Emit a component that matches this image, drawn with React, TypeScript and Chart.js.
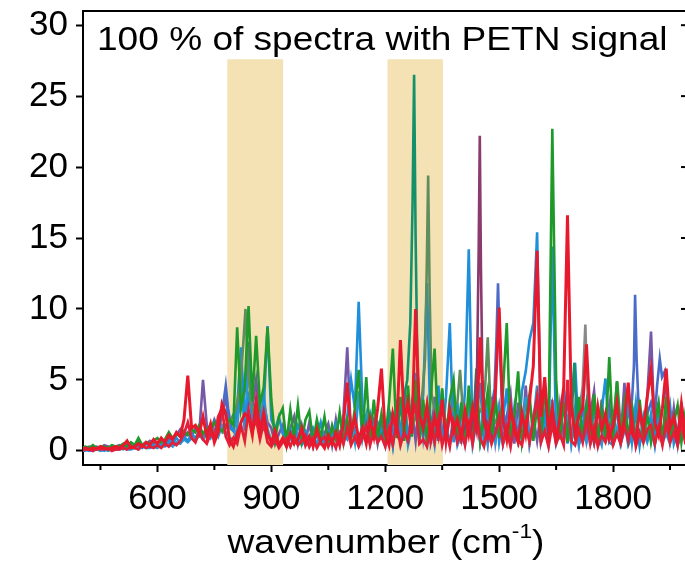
import React, { useEffect, useRef } from "react";
import { Chart, registerables } from "chart.js";
Chart.register(...registerables);

// ---------- data ----------
const wavenumbers = [
  400, 410, 420, 430, 440, 450, 460, 470, 480, 490,
  500, 510, 520, 530, 540, 550, 560, 570, 580, 590,
  600, 610, 620, 630, 640, 650, 660, 670, 680, 690,
  700, 710, 720, 730, 740, 750, 760, 770, 780, 790,
  800, 810, 820, 830, 840, 850, 860, 870, 880, 890,
  900, 910, 920, 930, 940, 950, 960, 970, 980, 990,
  1000, 1010, 1020, 1030, 1040, 1050, 1060, 1070, 1080, 1090,
  1100, 1110, 1120, 1130, 1140, 1150, 1160, 1170, 1180, 1190,
  1200, 1210, 1220, 1230, 1240, 1250, 1260, 1270, 1280, 1290,
  1300, 1310, 1320, 1330, 1340, 1350, 1360, 1370, 1380, 1390,
  1400, 1410, 1420, 1430, 1440, 1450, 1460, 1470, 1480, 1490,
  1500, 1510, 1520, 1530, 1540, 1550, 1560, 1570, 1580, 1590,
  1600, 1610, 1620, 1630, 1640, 1650, 1660, 1670, 1680, 1690,
  1700, 1710, 1720, 1730, 1740, 1750, 1760, 1770, 1780, 1790,
  1800, 1810, 1820, 1830, 1840, 1850, 1860, 1870, 1880, 1890,
  1900, 1910, 1920, 1930, 1940, 1950, 1960, 1970, 1980, 1990,
  2000,
];

const redSpectrum = [
  0.1, 0.2, 0.1, 0.2, 0.1, 0.3, 0.2, 0.1, 0.2, 0.3,
  0.2, 0.4, 0.7, 0.2, 0.3, 0.5, 0.3, 0.6, 0.4, 0.8,
  0.5, 0.9, 0.6, 1.1, 0.8, 1.3, 1.0, 2.2, 5.3, 1.6,
  1.8, 1.2, 2.4, 1.0, 1.9, 0.6, 1.3, 3.3, 2.6, 0.8,
  0.3, 1.2, 2.0, 2.6, 2.4, 1.1, 3.5, 1.4, 2.7, 1.2,
  0.6, 1.4, 0.4, 0.9, 0.3, 1.2, 0.5, 0.8, 1.6, 0.4,
  1.0, 0.3, 1.5, 0.6, 0.2, 1.1, 0.5, 1.3, 0.4, 2.0,
  4.8, 1.2, 2.4, 0.8, 1.6, 0.5, 2.2, 1.0, 3.0, 5.8,
  1.2, 0.4, 2.6, 1.5, 7.8, 2.0, 3.4, 1.2, 10.0, 2.5,
  1.6, 3.2, 0.8, 2.4, 1.1, 3.6, 0.7, 2.9, 1.4, 2.2,
  0.9, 2.8, 1.2, 3.0, 1.6, 8.0, 2.1, 1.0, 2.6, 4.0,
  10.1, 2.2, 0.8, 3.1, 1.4, 0.6, 2.7, 1.2, 3.5, 6.0,
  14.1, 2.4, 5.2, 1.3, 3.0, 0.9, 2.2, 4.5, 16.6, 3.2,
  1.1, 2.5, 3.0, 7.5, 2.0, 0.7, 3.1, 1.5, 2.6, 0.9,
  1.8, 3.4, 1.0, 2.2, 4.8, 1.3, 0.6, 2.9, 1.5, 3.8,
  5.7, 2.0, 1.1, 3.0, 5.8, 1.6, 2.4, 0.8, 3.3, 1.2,
  2.0,
];

const redSpectrum2 = [
  0.0, 0.1, 0.1, 0.0, 0.2, 0.1, 0.1, 0.2, 0.0, 0.1,
  0.1, 0.2, 0.1, 0.3, 0.2, 0.1, 0.4, 0.2, 0.3, 0.2,
  0.4, 0.2, 0.5, 0.3, 0.6, 0.4, 0.7, 1.2, 2.0, 0.9,
  0.6, 1.4, 0.8, 0.5, 1.2, 0.9, 2.4, 3.0, 1.0, 0.4,
  0.9, 0.5, 1.8, 0.7, 2.9, 1.4, 2.2, 0.8, 2.0, 0.6,
  0.3, 0.8, 0.2, 0.6, 0.9, 0.3, 1.0, 0.4, 0.7, 1.1,
  0.3, 0.9, 0.2, 0.7, 1.0, 0.3, 0.8, 0.2, 1.2, 0.5,
  1.6, 0.4, 1.0, 0.3, 0.9, 1.8, 0.4, 1.4, 0.6, 1.0,
  0.3, 1.6, 0.5, 2.0, 0.4, 1.3, 0.7, 2.4, 3.2, 0.5,
  0.8, 0.3, 1.8, 0.6, 2.2, 0.4, 1.5, 0.3, 2.0, 0.6,
  1.4, 0.4, 1.9, 0.5, 2.6, 0.9, 0.3, 1.7, 0.5, 1.2,
  2.4, 0.5, 1.6, 0.3, 2.0, 0.8, 0.4, 1.8, 0.6, 2.2,
  3.8, 0.6, 1.4, 0.3, 1.9, 0.5, 1.2, 0.4, 5.0, 0.7,
  0.4, 1.5, 0.6, 2.3, 0.5, 1.7, 0.3, 1.1, 0.6, 1.6,
  0.4, 1.2, 0.5, 1.8, 0.7, 2.2, 0.3, 1.3, 0.6, 1.5,
  1.8, 0.5, 1.6, 0.4, 2.0, 0.6, 1.3, 0.4, 2.1, 0.6,
  0.8,
];

const blueSpectrum = [
  0.0, 0.1, 0.0, 0.1, 0.2, 0.1, 0.0, 0.2, 0.1, 0.1,
  0.2, 0.1, 0.3, 0.2, 0.4, 0.3, 0.2, 0.5, 0.3, 0.4,
  0.3, 0.6, 0.4, 0.7, 0.5, 0.9, 0.6, 1.0, 0.7, 1.2,
  0.9, 1.4, 1.0, 1.6, 1.2, 2.0, 1.4, 2.4, 2.8, 1.6,
  1.4, 3.0, 7.3, 2.2, 3.8, 2.6, 3.4, 2.0, 3.0, 8.8,
  2.2, 1.5, 2.4, 1.2, 0.8, 1.5, 0.9, 1.8, 1.0, 1.4,
  0.8, 1.6, 1.0, 2.0, 0.7, 1.4, 1.1, 1.9, 0.9, 1.5,
  2.4, 5.0, 3.0, 10.5, 3.2, 1.6, 2.6, 1.2, 2.0, 1.4,
  0.4, 2.8, 0.6, 3.6, 0.9, 4.0, 0.5, 3.0, 5.5, 0.8,
  4.0, 11.8, 0.7, 2.0, 4.6, 0.5, 3.8, 9.0, 0.6, 3.4,
  0.5, 4.2, 14.2, 0.8, 2.4, 4.8, 0.4, 3.2, 0.9, 4.0,
  0.6, 2.2, 4.4, 0.4, 3.0, 0.8, 4.2, 5.6, 7.8, 9.0,
  15.4, 1.0, 2.6, 0.6, 14.4, 0.9, 2.0, 4.4, 0.5, 3.6,
  6.2, 0.7, 1.8, 3.4, 0.4, 3.2, 0.6, 2.8, 5.1, 0.8,
  1.6, 3.0, 0.5, 1.4, 3.4, 0.6, 2.8, 0.4, 2.4, 1.0,
  2.6, 0.5, 3.0, 0.7, 1.6, 3.2, 0.5, 1.4, 2.8, 0.9,
  2.0,
];

const blueSpectrum2 = [
  0.0, 0.0, 0.1, 0.0, 0.1, 0.0, 0.1, 0.0, 0.1, 0.1,
  0.1, 0.2, 0.1, 0.1, 0.2, 0.1, 0.3, 0.2, 0.2, 0.3,
  0.2, 0.4, 0.3, 0.5, 0.3, 0.6, 0.5, 0.8, 0.6, 0.9,
  0.7, 1.1, 0.8, 1.3, 0.9, 1.5, 1.0, 1.8, 1.3, 0.9,
  0.8, 1.6, 5.2, 1.4, 6.4, 1.8, 2.6, 1.2, 4.0, 1.5,
  0.7, 1.0, 0.4, 0.8, 0.3, 0.9, 0.5, 1.2, 0.4, 0.8,
  0.3, 1.0, 0.5, 1.2, 0.4, 0.9, 0.6, 1.4, 0.5, 1.1,
  0.8, 2.0, 0.6, 4.2, 0.9, 2.5, 0.5, 1.6, 0.7, 1.2,
  0.5, 1.4, 0.3, 2.2, 0.6, 3.2, 0.4, 1.6, 4.5, 0.7,
  2.8, 0.6, 2.0, 0.4, 3.0, 0.7, 1.8, 0.5, 2.6, 0.4,
  1.2, 0.5, 3.6, 0.4, 2.0, 0.6, 3.4, 0.5, 1.8, 0.6,
  2.9, 0.5, 1.6, 0.4, 2.4, 0.6, 1.4, 3.8, 0.5, 2.0,
  4.6, 0.6, 1.8, 0.4, 3.0, 0.5, 1.5, 0.7, 2.2, 0.5,
  3.0, 0.4, 1.4, 0.6, 2.0, 0.5, 1.2, 0.4, 2.4, 0.6,
  0.4, 1.6, 0.5, 2.2, 0.4, 1.0, 3.4, 0.5, 1.4, 0.6,
  1.6, 0.4, 2.4, 0.6, 1.2, 0.5, 1.8, 0.4, 1.0, 1.4,
  0.6,
];

const greenSpectrum = [
  0.2, 0.3, 0.2, 0.4, 0.2, 0.3, 0.3, 0.2, 0.4, 0.3,
  0.3, 0.5, 0.3, 0.6, 0.4, 0.9, 0.4, 0.6, 0.5, 0.7,
  0.9, 0.6, 0.8, 1.3, 0.9, 1.2, 1.0, 1.4, 1.1, 1.5,
  1.3, 1.8, 1.2, 1.6, 1.4, 2.0, 1.6, 1.4, 1.8, 2.2,
  1.8, 8.7, 3.0, 4.5, 10.2, 3.5, 8.1, 3.2, 4.5, 8.7,
  3.6, 0.8, 2.4, 3.0, 0.6, 2.9, 0.9, 3.2, 0.7, 2.2,
  2.8, 0.6, 2.2, 0.9, 2.4, 0.5, 1.8, 0.8, 2.7, 0.6,
  2.2, 0.9, 3.0, 5.7, 1.0, 5.2, 0.8, 3.6, 0.9, 2.6,
  0.8, 3.4, 7.2, 0.9, 3.8, 0.7, 4.6, 1.0, 5.0, 0.8,
  3.6, 0.6, 4.0, 7.2, 0.9, 4.4, 0.7, 3.6, 5.0, 0.6,
  3.4, 0.8, 4.6, 1.0, 5.8, 0.7, 2.4, 4.2, 0.5, 3.8,
  0.9, 4.2, 9.0, 0.8, 2.4, 5.6, 0.6, 2.2, 4.0, 0.7,
  3.2, 0.6, 4.6, 1.2, 22.7, 5.0, 0.8, 3.4, 0.6, 4.0,
  0.8, 3.8, 0.6, 3.2, 1.0, 4.0, 0.7, 3.0, 0.9, 6.6,
  0.7, 4.9, 0.6, 3.4, 0.9, 3.0, 0.5, 3.6, 0.8, 2.6,
  0.6, 2.0, 3.4, 0.7, 3.8, 0.9, 2.0, 3.2, 0.6, 2.6,
  1.0,
];

const purpleSpectrum = [
  0.1, 0.2, 0.3, 0.2, 0.3, 0.2, 0.4, 0.3, 0.2, 0.3,
  0.4, 0.3, 0.5, 0.4, 0.3, 0.6, 0.4, 0.5, 0.7, 0.5,
  0.6, 0.8, 0.5, 0.9, 0.7, 1.1, 1.5, 0.9, 1.3, 1.0,
  1.6, 1.2, 5.0, 1.8, 1.4, 2.2, 1.6, 2.8, 3.6, 1.8,
  1.4, 2.6, 3.0, 4.2, 7.7, 3.0, 5.0, 2.4, 3.4, 2.0,
  1.6, 0.5, 1.2, 1.8, 0.4, 1.6, 2.4, 0.5, 1.8, 0.6,
  2.0, 0.4, 1.7, 0.6, 1.2, 1.9, 0.4, 2.2, 0.6, 2.6,
  7.3, 0.9, 1.6, 0.5, 1.8, 0.7, 1.4, 2.2, 0.5, 2.0,
  0.6, 2.8, 0.5, 3.4, 0.8, 4.2, 0.6, 3.0, 0.7, 3.6,
  0.9, 3.2, 0.5, 3.8, 0.7, 4.2, 0.8, 2.4, 4.0, 0.6,
  3.0, 0.7, 3.6, 0.5, 4.4, 0.9, 2.6, 0.6, 3.8, 0.7,
  3.0, 0.6, 2.4, 4.0, 0.5, 3.4, 0.8, 4.6, 0.6, 2.4,
  0.7, 2.8, 4.2, 0.6, 3.6, 0.5, 3.2, 0.8, 4.0, 0.6,
  2.4, 0.5, 3.4, 0.8, 2.6, 4.2, 0.5, 3.6, 0.7, 3.2,
  0.6, 3.6, 0.8, 4.8, 0.5, 3.2, 0.7, 3.0, 0.6, 3.8,
  8.4, 0.7, 3.4, 0.5, 3.6, 0.8, 3.0, 0.6, 3.4, 0.8,
  1.0,
];

const tealX = [1180, 1200, 1215, 1230, 1245, 1258, 1266, 1272, 1276, 1280, 1285, 1292, 1300, 1315, 1330, 1350, 1500, 1680, 1692, 1698, 1704, 1715];
const tealY = [0.8, 1.5, 2.6, 1.8, 3.2, 5.0, 9.0, 17.5, 26.5, 15.0, 5.5, 2.4, 1.4, 2.8, 1.2, 0.9, null, 1.6, 3.0, 6.2, 2.4, 1.0];

const oliveX = [770, 790, 805, 818, 826, 832, 838, 846, 860, 880, 1000, 1270, 1285, 1297, 1305, 1310, 1313, 1317, 1322, 1332, 1345, 1360, 1375, 1390, 1397, 1405, 1420, 1440, 1455, 1463, 1470, 1477, 1490, 1505, 1700, 1780, 1795, 1804, 1811, 1818, 1830, 1845];
const oliveY = [1.2, 2.0, 2.8, 4.5, 7.5, 10.0, 6.0, 3.5, 2.0, 1.4, null, 1.6, 2.8, 3.8, 6.5, 14.0, 19.4, 11.0, 4.0, 2.6, 3.2, 2.0, 2.8, 3.4, 5.7, 2.6, 1.8, 2.4, 3.0, 4.5, 8.0, 3.2, 2.0, 1.5, null, 1.4, 2.2, 3.0, 4.9, 2.4, 1.6, 1.2];

const maroonX = [1400, 1415, 1425, 1435, 1442, 1446, 1449, 1452, 1456, 1462, 1470, 1485];
const maroonY = [1.0, 2.0, 1.4, 2.8, 6.0, 14.0, 22.2, 13.0, 5.0, 2.4, 1.6, 0.8];

const grayX = [1690, 1705, 1712, 1720, 1724, 1727, 1731, 1737, 1745, 1760];
const grayY = [1.2, 2.0, 3.0, 4.5, 7.0, 8.9, 5.0, 2.6, 1.6, 1.0];

const royalX = [760, 770, 776, 780, 786, 795, 1000, 1470, 1480, 1488, 1493, 1497, 1502, 1508, 1518, 1530, 1700, 1830, 1842, 1850, 1855, 1858, 1862, 1868, 1878, 1890, 1900, 1910, 1916, 1923, 1929, 1936, 1945, 1960];
const royalY = [1.5, 2.6, 3.8, 4.6, 3.0, 1.6, null, 2.0, 3.0, 4.4, 8.0, 11.8, 7.0, 3.0, 2.0, 1.4, null, 1.6, 2.8, 3.6, 6.0, 11.0, 6.5, 2.6, 1.8, 2.6, 3.4, 2.4, 4.6, 6.5, 5.2, 5.6, 2.4, 1.6];

const bandStart = [784, 1206];
const bandEnd = [931, 1352];
const bandTop = 27.6;

const xTickValues = [450, 600, 750, 900, 1050, 1200, 1350, 1500, 1650, 1800, 1950];
const xLabelStep = 300;
const yTickValues = [0, 5, 10, 15, 20, 25, 30];

const titleText = "100 % of spectra with PETN signal";
const axisTitleMain = "wavenumber (cm";
const axisTitleSup = "-1";
const axisTitleEnd = ")";

const FONT = "'Liberation Sans', Arial, sans-serif";
const STRETCH = 1.09;

function gridPoints(ys: number[]) {
  return ys.map((v, i) => ({ x: wavenumbers[i], y: v }));
}
function pairPoints(xs: number[], ys: (number | null)[]) {
  return xs.map((v, i) => ({ x: v, y: ys[i] }));
}

const decorPlugin = {
  id: "decor",
  beforeDatasetsDraw(chart: any) {
    const { ctx, chartArea, scales } = chart;
    const x = scales.x, y = scales.y;
    ctx.save();
    ctx.fillStyle = "#f4e2b5";
    const yt = y.getPixelForValue(bandTop);
    bandStart.forEach((s, i) => {
      const x0 = x.getPixelForValue(s);
      const x1 = x.getPixelForValue(bandEnd[i]);
      ctx.fillRect(x0, yt, x1 - x0, chartArea.bottom - yt);
    });
    ctx.restore();
  },
  afterDraw(chart: any) {
    const { ctx, chartArea, scales } = chart;
    const x = scales.x, y = scales.y;
    ctx.save();
    ctx.strokeStyle = "#000";
    ctx.lineWidth = 2;
    // top and right spines
    ctx.beginPath();
    ctx.moveTo(chartArea.left - 1, chartArea.top);
    ctx.lineTo(chartArea.right, chartArea.top);
    ctx.lineTo(chartArea.right, chartArea.bottom);
    ctx.stroke();
    // right inward ticks
    yTickValues.forEach((v) => {
      const py = y.getPixelForValue(v);
      ctx.beginPath();
      ctx.moveTo(chartArea.right - 8, py);
      ctx.lineTo(chartArea.right, py);
      ctx.stroke();
    });
    // minor x ticks
    xTickValues.forEach((v) => {
      if (v % xLabelStep !== 0) {
        const px = x.getPixelForValue(v);
        ctx.beginPath();
        ctx.moveTo(px, chartArea.bottom);
        ctx.lineTo(px, chartArea.bottom + 5);
        ctx.stroke();
      }
    });
    // title inside plot
    ctx.fillStyle = "#000";
    ctx.textAlign = "left";
    ctx.textBaseline = "alphabetic";
    ctx.save();
    ctx.translate(97, 50);
    ctx.scale(STRETCH, 1);
    ctx.font = `34px ${FONT}`;
    ctx.fillText(titleText, 0, 0);
    ctx.restore();
    // axis title with superscript
    const mainFont = `34px ${FONT}`;
    const supFont = `21px ${FONT}`;
    ctx.font = mainFont;
    const w1 = ctx.measureText(axisTitleMain).width;
    const w3 = ctx.measureText(axisTitleEnd).width;
    ctx.font = supFont;
    const w2 = ctx.measureText(axisTitleSup).width;
    const total = (w1 + w2 + w3) * STRETCH;
    ctx.save();
    ctx.translate(386 - total / 2, 553);
    ctx.scale(STRETCH, 1);
    let sx = 0;
    ctx.font = mainFont;
    ctx.fillText(axisTitleMain, sx, 0);
    sx += w1;
    ctx.font = supFont;
    ctx.fillText(axisTitleSup, sx, -15);
    sx += w2;
    ctx.font = mainFont;
    ctx.fillText(axisTitleEnd, sx, 0);
    ctx.restore();
    ctx.restore();
  },
};

export default function App() {
  const canvasRef = useRef<HTMLCanvasElement | null>(null);

  useEffect(() => {
    const canvas = canvasRef.current;
    if (!canvas) return;
    const line = (data: any[], color: string, order: number, width = 2.6) => ({
      data,
      borderColor: color,
      backgroundColor: color,
      borderWidth: width,
      pointRadius: 0,
      tension: 0,
      fill: false,
      spanGaps: false,
      order,
    });
    const chart = new Chart(canvas, {
      type: "line",
      data: {
        datasets: [
          line(gridPoints(redSpectrum), "#e8192c", 0, 3),
          line(gridPoints(redSpectrum2), "#e2203a", 1, 2.8),
          line(pairPoints(maroonX, maroonY), "#8b3a6e", 2),
          line(pairPoints(tealX, tealY), "#14906a", 3),
          line(gridPoints(greenSpectrum), "#1f9a2a", 4),
          line(pairPoints(oliveX, oliveY), "#5f8d5b", 5),
          line(gridPoints(blueSpectrum), "#1f8fdc", 6),
          line(gridPoints(blueSpectrum2), "#2a98d6", 7),
          line(pairPoints(royalX, royalY), "#4a6cc8", 8),
          line(gridPoints(purpleSpectrum), "#7558a8", 9),
          line(pairPoints(grayX, grayY), "#888888", 10),
        ],
      },
      options: {
        animation: false,
        responsive: false,
        devicePixelRatio: 1,
        layout: { padding: { top: 11, right: 11, left: 0, bottom: 0 } },
        plugins: { legend: { display: false }, tooltip: { enabled: false } },
        scales: {
          x: {
            type: "linear",
            min: 404,
            max: 2000,
            afterBuildTicks: (s: any) => {
              s.ticks = xTickValues.map((v) => ({ value: v }));
            },
            afterFit: (s: any) => {
              s.height = 96;
              s.paddingLeft = 0;
              s.paddingRight = 0;
            },
            ticks: {
              autoSkip: false,
              maxRotation: 0,
              color: "#000",
              font: { family: FONT, size: 35 },
              padding: 6,
              callback: (v: any) => (Number(v) % xLabelStep === 0 ? String(v) : ""),
            },
            grid: {
              drawOnChartArea: false,
              drawTicks: true,
              tickLength: 7,
              tickWidth: 2,
              tickColor: (ctx: any) =>
                ctx.tick && ctx.tick.value % xLabelStep === 0 ? "#000" : "rgba(0,0,0,0)",
            },
            border: { display: true, color: "#000", width: 2 },
          },
          y: {
            type: "linear",
            min: -1,
            max: 31,
            afterBuildTicks: (s: any) => {
              s.ticks = yTickValues.map((v) => ({ value: v }));
            },
            afterFit: (s: any) => {
              s.width = 83;
              s.paddingTop = 0;
              s.paddingBottom = 0;
            },
            ticks: {
              color: "#000",
              font: { family: FONT, size: 35 },
              padding: 8,
            },
            grid: {
              drawOnChartArea: false,
              drawTicks: true,
              tickLength: 7,
              tickWidth: 2,
              tickColor: "#000",
            },
            border: { display: true, color: "#000", width: 2 },
          },
        },
      },
      plugins: [decorPlugin],
    } as any);
    return () => chart.destroy();
  }, []);

  return (
    <div
      style={{
        position: "fixed",
        left: 0,
        top: 0,
        width: 685,
        height: 561,
        overflow: "hidden",
        background: "#fff",
      }}
    >
      <canvas ref={canvasRef} width={700} height={561} style={{ display: "block" }} />
    </div>
  );
}
